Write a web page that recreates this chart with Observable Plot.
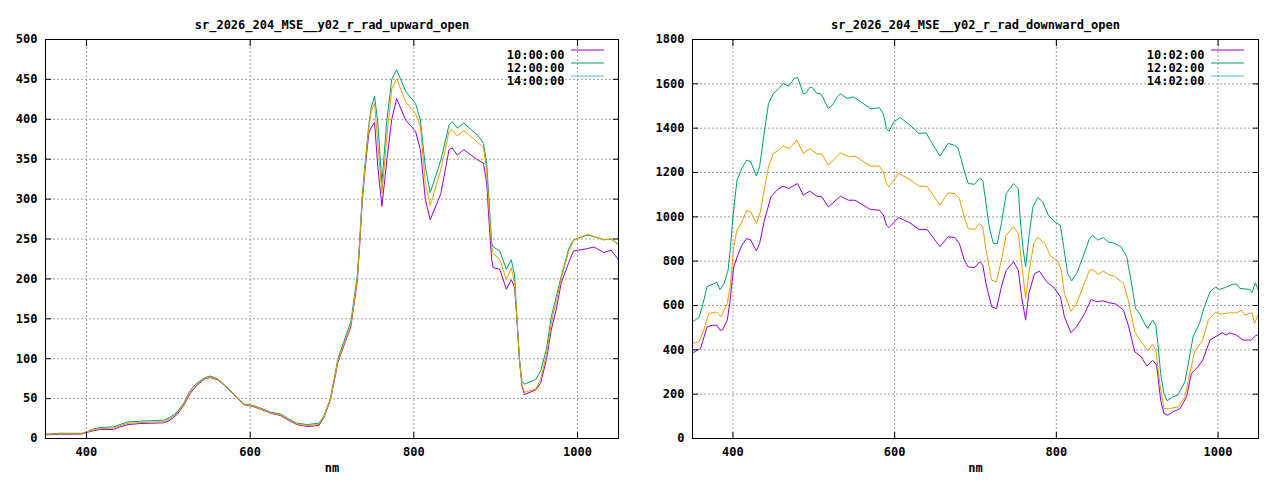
<!DOCTYPE html>
<html><head><meta charset="utf-8">
<script src="https://cdn.jsdelivr.net/npm/d3@7"></script>
<script src="https://cdn.jsdelivr.net/npm/@observablehq/plot@0.6"></script>
<style>
body{margin:0;background:#fff;}
#wrap{display:flex;width:1280px;height:480px;}
.panel{width:640px;height:480px;}
</style></head>
<body><div id="wrap"><div class="panel" id="p1"></div><div class="panel" id="p2"></div></div>
<script>
// ---------- Data ----------
const xTicks = [400, 600, 800, 1000];
const upYTicks = [0, 50, 100, 150, 200, 250, 300, 350, 400, 450, 500];
const downYTicks = [0, 200, 400, 600, 800, 1000, 1200, 1400, 1600, 1800];
const upTitle = "sr_2026_204_MSE__y02_r_rad_upward_open";
const downTitle = "sr_2026_204_MSE__y02_r_rad_downward_open";
const upLegend = ["10:00:00", "12:00:00", "14:00:00"];
const downLegend = ["10:02:00", "12:02:00", "14:02:00"];

// upward panel: shared wavelength grid (nm)
const upNm = [
  350,367,394,400,408,417,433,441,451,466,
  494,502,511,519,527,535,545,551,560,568,
  578,584,592,604,612,625,637,647,657,670,
  684,690,698,704,707,714,723,731,734,737,
  741,745,748,752,756,761,767,773,779,790,
  802,808,814,820,833,843,847,853,861,870,
  878,885,889,892,895,897,905,913,919,923,
  926,929,932,935,949,955,962,968,974,980,
  989,995,1001,1012,1020,1032,1041,1050];
const up1000 = [
  4.5,5.3,5.5,7.5,9.6,11.3,11.3,14.6,17.5,18.8,
  19.6,22.9,30.4,41.7,57,66.7,75,76.3,73.8,67,
  57,51,42.5,40,37,31.7,28.8,22.9,17.5,15,
  16.3,26,48,78,95,115,140,198,245,298,
  343,383,390,396,340,291,349,400,426,399,
  385,362,300,274,307,362,364,355,362,355,
  349,345,320,270,225,214,212,187,199,190,
  149,99,66,55,61,70,99,137,162,195,
  220,235,236,238,240,233,236,224];
const up1200 = [
  5.3,6.6,6.5,8.3,11.6,13.8,14.6,17.5,20.8,21.7,
  22.9,26.3,33.3,44.6,60.4,69.6,76.3,78.3,75,67.9,
  58,51.7,43.3,41.3,38.3,32.9,30.8,24.6,19.2,17.5,
  19.2,28,50,82,99,120,146,205,252,305,
  351,393,415,429,395,320,399,450,462,435,
  420,399,340,308,349,393,397,389,395,387,
  380,370,345,295,245,240,235,212,224,205,
  149,99,72,68,74,85,112,153,178,203,
  237,249,251,255,253,249,250,243];
const upExtra = [
  5,6,6,8,10.5,12.5,13,16,19,20,
  21,24.5,32,43,59,68,75.5,77,74.5,67.5,
  57.5,51.5,43,40.5,37.5,32.3,29.8,23.8,18.3,16.2,
  17.7,27,49,80,97,117,142,201,249,302,
  348,390,410,420,370,307,378,438,451,422,
  407,391,320,292,337,385,387,379,386,378,
  371,365,335,285,240,232,224,199,214,195,
  149,99,68,58,62,75,105,145,172,200,
  234,248,251,256,253,249,250,243];

// downward panel: [nm, value] per series
const down1002 = [[350,386],[360,406],[368,504],[375,511],[380,511],[384,489],[387,489],[393,534],[396,609],[401,774],[406,827],[411,872],[417,902],[422,895],[429,847],[433,880],[439,985],[447,1090],[455,1123],[462,1138],[469,1128],[476,1143],[480,1150],[487,1098],[495,1116],[504,1093],[510,1090],[518,1045],[533,1093],[543,1075],[551,1075],[570,1033],[581,1030],[586,1008],[590,962],[593,952],[605,997],[619,973],[630,943],[640,943],[656,865],[666,910],[674,907],[680,880],[686,805],[691,774],[699,771],[705,797],[709,782],[713,699],[720,594],[726,586],[732,684],[738,759],[747,797],[753,759],[757,639],[762,534],[766,654],[773,744],[779,755],[788,707],[798,677],[805,639],[810,549],[818,477],[825,504],[835,564],[843,627],[850,617],[858,621],[866,612],[874,606],[883,579],[889,511],[897,391],[905,368],[912,326],[919,353],[924,331],[929,173],[933,113],[938,105],[944,120],[953,135],[961,188],[967,293],[975,323],[981,353],[990,444],[1000,466],[1005,477],[1010,466],[1014,477],[1023,466],[1031,444],[1041,444],[1047,466],[1050,466]];
const down1202 = [[350,526],[358,546],[362,594],[368,684],[372,692],[380,704],[384,672],[389,699],[394,759],[397,865],[400,1000],[405,1165],[411,1218],[417,1256],[422,1248],[426,1211],[429,1184],[433,1226],[438,1361],[444,1511],[450,1556],[457,1579],[462,1602],[469,1590],[476,1624],[480,1629],[487,1556],[490,1556],[495,1584],[498,1584],[504,1556],[508,1556],[511,1541],[518,1489],[523,1504],[529,1541],[533,1556],[541,1534],[549,1541],[558,1519],[570,1489],[576,1489],[581,1493],[586,1466],[590,1398],[593,1386],[599,1429],[607,1448],[619,1414],[630,1376],[639,1379],[644,1346],[656,1274],[666,1331],[674,1323],[678,1313],[682,1263],[687,1196],[691,1150],[699,1147],[705,1173],[709,1165],[713,1060],[717,955],[722,880],[727,880],[732,970],[738,1105],[747,1150],[753,1128],[755,1000],[759,850],[762,774],[766,910],[771,1045],[777,1087],[783,1068],[790,1008],[798,977],[805,962],[809,865],[814,744],[819,711],[825,744],[833,820],[841,902],[845,917],[851,895],[858,907],[864,887],[872,880],[880,865],[887,820],[893,699],[898,586],[903,564],[908,526],[913,496],[919,534],[923,511],[926,414],[929,293],[933,203],[937,170],[944,188],[950,195],[959,256],[964,353],[969,459],[977,519],[983,594],[990,662],[997,684],[1001,672],[1009,681],[1018,696],[1023,696],[1027,677],[1039,672],[1042,659],[1046,702],[1050,669]];
const downExtra = [[350,429],[358,436],[364,489],[370,564],[380,571],[385,549],[393,609],[397,699],[401,865],[405,940],[411,977],[417,1030],[422,1023],[429,970],[434,1023],[439,1128],[444,1226],[450,1286],[457,1301],[462,1319],[470,1308],[479,1346],[487,1286],[495,1308],[504,1283],[510,1283],[518,1233],[533,1289],[543,1271],[551,1274],[570,1229],[581,1229],[586,1203],[590,1150],[593,1135],[605,1196],[619,1168],[630,1138],[640,1138],[656,1053],[666,1108],[674,1105],[680,1083],[686,1000],[691,947],[699,943],[705,970],[709,955],[713,850],[720,714],[726,707],[732,805],[738,917],[747,955],[753,925],[757,790],[762,632],[766,744],[772,880],[777,907],[786,880],[792,827],[802,797],[806,759],[810,654],[818,574],[825,609],[833,684],[841,759],[845,762],[852,740],[858,756],[864,740],[872,732],[883,699],[889,624],[897,481],[905,436],[913,395],[919,425],[923,398],[928,248],[933,135],[940,135],[951,143],[959,188],[965,293],[971,391],[981,444],[988,534],[997,571],[1002,561],[1014,567],[1023,567],[1029,579],[1033,556],[1039,564],[1042,567],[1045,519],[1050,564]];

const seriesColors = ["#9400d3", "#009e73", "#56b4e9", "#e69f00"];

// ---------- Drawing ----------
function panel({title, series, yDomain, yTicks, legend, marginLeft}) {
  const W = 640, H = 480, mt = 39, mb = 42, mr = 22;
  const grid = {stroke: "#a0a0a0", strokeOpacity: 1, strokeDasharray: "2,2"};
  const blank = () => "";
  const plain = d => String(d);
  const marks = [
    Plot.gridX(xTicks, grid),
    Plot.gridY(yTicks, grid),
    ...series.map(s => Plot.line(s.rows, {x: "nm", y: "v", stroke: s.color, strokeWidth: 1})),
    Plot.frame({stroke: "black", strokeWidth: 1}),
    Plot.axisX(xTicks, {anchor: "bottom", tickSize: 0, tickPadding: 9, tickFormat: plain, label: null}),
    Plot.axisY(yTicks, {anchor: "left", tickSize: 0, tickPadding: 8, tickFormat: plain, label: null}),
    Plot.axisX(xTicks, {anchor: "bottom", tickSize: 6, dy: -6, tickFormat: blank, label: null}),
    Plot.axisX(xTicks, {anchor: "top", tickSize: 6, dy: 6, tickFormat: blank, label: null}),
    Plot.axisY(yTicks, {anchor: "left", tickSize: 6, dx: 6, tickFormat: blank, label: null}),
    Plot.axisY(yTicks, {anchor: "right", tickSize: 6, dx: -6, tickFormat: blank, label: null}),
    Plot.text([title], {frameAnchor: "top", dy: -19}),
    Plot.text(["nm"], {frameAnchor: "bottom", dy: 33}),
    ...legend.map((t, i) => Plot.text([t], {frameAnchor: "top-right", dx: -54, dy: 11 + 13 * i, textAnchor: "end"}))
  ];
  const chart = Plot.plot({
    width: W, height: H, marginTop: mt, marginBottom: mb, marginLeft, marginRight: mr,
    x: {domain: [350, 1050]},
    y: {domain: yDomain},
    style: {fontFamily: "'DejaVu Sans Mono', monospace", fontSize: "12px", fontWeight: "bold", color: "black", background: "white", overflow: "visible"},
    marks
  });
  const svg = d3.select(chart);
  const fr = W - mr;
  legend.forEach((t, i) => {
    svg.append("line")
      .attr("x1", fr - 47).attr("x2", fr - 14)
      .attr("y1", mt + 11 + 13 * i).attr("y2", mt + 11 + 13 * i)
      .attr("stroke", seriesColors[i]).attr("stroke-width", 1);
  });
  return chart;
}

const upSeries = [
  {rows: upNm.map((nm, i) => ({nm, v: up1000[i]})), color: seriesColors[0]},
  {rows: upNm.map((nm, i) => ({nm, v: up1200[i]})), color: seriesColors[1]},
  {rows: upNm.map((nm, i) => ({nm, v: upExtra[i]})), color: seriesColors[3]}
];
const toRows = arr => arr.map(([nm, v]) => ({nm, v}));
const downSeries = [
  {rows: toRows(down1002), color: seriesColors[0]},
  {rows: toRows(down1202), color: seriesColors[1]},
  {rows: toRows(downExtra), color: seriesColors[3]}
];

document.getElementById("p1").append(panel({title: upTitle, series: upSeries, yDomain: [0, 500], yTicks: upYTicks, legend: upLegend, marginLeft: 45}));
document.getElementById("p2").append(panel({title: downTitle, series: downSeries, yDomain: [0, 1800], yTicks: downYTicks, legend: downLegend, marginLeft: 52}));
</script>
</body></html>
